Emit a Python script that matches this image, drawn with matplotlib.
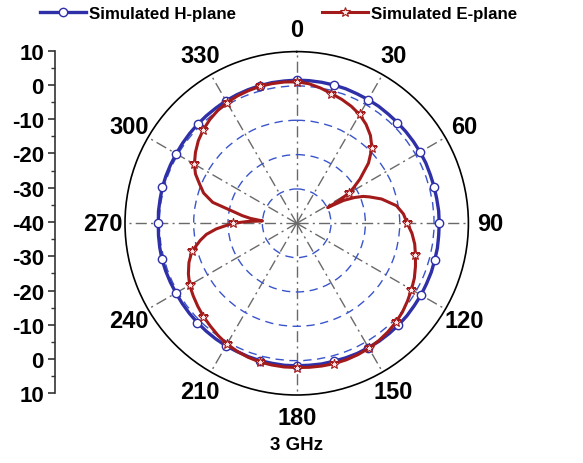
import numpy as np
import matplotlib
matplotlib.use("Agg")
import matplotlib.pyplot as plt
from matplotlib.ticker import FixedLocator

plt.rcParams['font.family'] = ['Liberation Sans', 'DejaVu Sans']
plt.rcParams['font.weight'] = 'bold'

# ---- data (dB vs angle in degrees) ----
h_theta = list(range(0, 361, 5))
h_db = [1.7, 1.7, 1.7, 1.7, 1.7, 1.6, 1.6, 1.6, 1.5, 1.5, 1.5, 1.5,
        1.5, 1.5, 1.4, 1.4, 1.4, 1.5, 1.5, 1.5, 1.6, 1.6, 1.7, 1.7,
        1.8, 1.8, 1.9, 1.9, 1.9, 1.9, 1.8, 1.8, 1.7, 1.6, 1.6, 1.5,
        1.5, 1.5, 1.4, 1.4, 1.3, 1.2, 1.2, 1.1, 1.0, 0.9, 0.8, 0.7,
        0.6, 0.6, 0.6, 0.6, 0.5, 0.4, 0.3, 0.4, 0.4, 0.5, 0.5, 0.5,
        0.5, 0.6, 0.7, 0.8, 0.9, 1.0, 1.2, 1.3, 1.4, 1.5, 1.6, 1.6,
        1.7]

e_theta = [0, 5, 10, 15, 20, 25, 30, 35, 40, 45, 50, 55, 58, 60, 62, 63,
           64, 66, 68, 70, 74, 80, 85, 90, 95, 100, 105, 110, 115, 120,
           125, 130, 135, 140, 145, 150, 155, 160, 165, 170, 175, 180,
           185, 190, 195, 200, 205, 210, 215, 220, 225, 230, 235, 240,
           245, 250, 255, 260, 263, 266, 268, 270, 272, 274, 276, 278,
           281, 284, 288, 292, 296, 300, 305, 310, 315, 320, 325, 330,
           335, 340, 345, 350, 355, 360]
e_db = [1.2, 0.8, 0.0, -0.9, -1.6, -2.4, -3.4, -4.8, -6.6, -9.0, -12.7,
        -17.5, -20.5, -22.5, -26.5, -29.9, -24.8, -21.5, -19.1, -17.5,
        -14.3, -10.5, -8.8, -7.8, -6.3, -5.1, -4.2, -3.2, -2.2, -1.4,
        -0.6, 0.2, 0.8, 1.3, 1.7, 2.0, 2.2, 2.3, 2.3, 2.2, 2.1, 2.0,
        2.0, 1.9, 1.8, 1.5, 1.1, 0.6, -0.1, -0.9, -1.6, -2.4, -3.2,
        -4.0, -5.2, -6.6, -8.4, -11.5, -13.5, -16.5, -19.2, -21.5,
        -25.5, -30.0, -26.5, -24.0, -20.5, -14.8, -11.5, -9.5, -7.2,
        -5.6, -4.0, -2.6, -1.5, -0.6, 0.1, 0.6, 0.9, 1.1, 1.3, 1.3,
        1.3, 1.2]

angle_ticks = [0, 30, 60, 90, 120, 150, 180, 210, 240, 270, 300, 330]
angle_labels = ['0', '30', '60', '90', '120', '150', '180', '210', '240',
                '270', '300', '330']
ring_db = [-30, -20, -10, 0]
side_ticks = [-50, -40, -30, -20, -10, 0, 10, 20, 30, 40, 50]
side_labels = ['10', '0', '-10', '-20', '-30', '-40', '-30', '-20', '-10',
               '0', '10']

H_COLOR = '#2f2fa8'
E_COLOR = '#a31a1a'

W, H = 583, 464
fig = plt.figure(figsize=(W / 100, H / 100), dpi=100)

cx, cy, R = 296.7, 224.3, 171.7
ax = fig.add_axes([(cx - R) / W, (H - cy - R) / H, 2 * R / W, 2 * R / H],
                  projection='polar')
ax.set_theta_zero_location('N')
ax.set_theta_direction(-1)
ax.set_rlim(-40, 10)

# grids
ax.set_rgrids(ring_db, labels=[''] * len(ring_db))
ax.yaxis.grid(True, color='#3a55cc', linestyle=(0, (6, 4)), linewidth=1.0)
ax.set_thetagrids(angle_ticks, labels=angle_labels)
ax.xaxis.grid(True, color='#6a6a6a', linestyle=(0, (8, 3, 1.5, 3)),
              linewidth=1.0)
ax.xaxis.set_minor_locator(FixedLocator(np.deg2rad(np.arange(15, 360, 30))))
ax.tick_params(axis='x', which='major', direction='in', length=8,
               width=1.0, color='black', pad=9, labelsize=17)
ax.tick_params(axis='x', which='minor', direction='in', length=5,
               width=1.0, color='black')
for lab in ax.get_xticklabels():
    lab.set_fontweight('bold')
ax.spines['polar'].set_color('black')
ax.spines['polar'].set_linewidth(1.2)

th_h = np.deg2rad(h_theta)
th_e = np.deg2rad(e_theta)
h_marks = [i for i, t in enumerate(h_theta) if t % 15 == 0 and t < 360]
e_marks = [i for i, t in enumerate(e_theta) if t % 15 == 0 and t < 360]

ax.plot(th_h, h_db, color=H_COLOR, linewidth=2.4, marker='o',
        markersize=6, markerfacecolor='white', markeredgecolor=H_COLOR,
        markeredgewidth=1.0, markevery=h_marks, label='Simulated H-plane',
        zorder=3)
ax.plot(th_e, e_db, color=E_COLOR, linewidth=2.2, marker='*',
        markersize=7.5, markerfacecolor='#fbe8ea', markeredgecolor=E_COLOR,
        markeredgewidth=0.8, markevery=e_marks, label='Simulated E-plane',
        zorder=4)

# left dB scale
sax = fig.add_axes([55 / W, (H - 394.3) / H, 0.001, (394.3 - 51.7) / H])
sax.set_ylim(-50, 50)
sax.set_xticks([])
sax.patch.set_alpha(0)
for s in ['top', 'right', 'bottom']:
    sax.spines[s].set_visible(False)
sax.spines['left'].set_color('#333333')
sax.spines['left'].set_linewidth(1.2)
sax.set_yticks(side_ticks)
sax.set_yticklabels(side_labels, fontsize=16, fontweight='bold')
sax.yaxis.set_minor_locator(FixedLocator(np.arange(-45, 50, 10)))
sax.tick_params(axis='y', which='major', direction='out', length=5,
                width=1.2, color='#333333', pad=3)
sax.tick_params(axis='y', which='minor', direction='out', length=3,
                width=1.0, color='#333333')

# legends
hl, el = ax.get_lines()[0], ax.get_lines()[1]
for handle, x0 in [(hl, 40), (el, 322)]:
    fig.legend([handle], [handle.get_label()], loc='center left',
               bbox_to_anchor=(x0 / W, 1 - 14 / H), frameon=False,
               borderpad=0, borderaxespad=0, handlelength=2.7,
               handletextpad=0.2, numpoints=1,
               prop={'size': 12.2, 'weight': 'bold'})

fig.text(cx / W, 1 - 446 / H, '3 GHz', ha='center', va='center',
         fontsize=13.5, fontweight='bold')

fig.savefig('out.png', dpi=100)
